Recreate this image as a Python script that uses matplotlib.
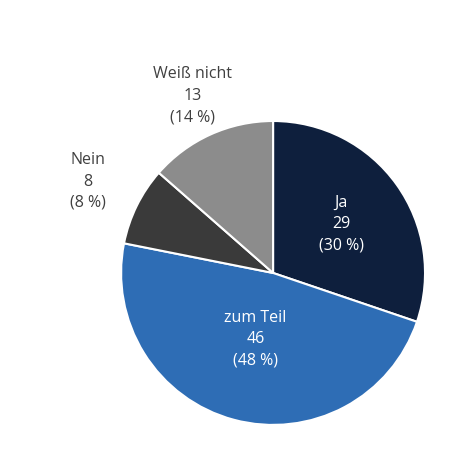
import numpy as np
import matplotlib.pyplot as plt

labels = ["Ja", "zum Teil", "Nein", "Weiß nicht"]
counts = [29, 46, 8, 13]
percents = [30, 48, 8, 14]
colors = ["#0e1f3d", "#2e6db5", "#3a3a3a", "#8c8c8c"]
text_colors = ["white", "white", "#404040", "#404040"]
label_dist = [0.55, 0.45, 1.36, 1.28]

plt.rcParams["font.family"] = ["Open Sans", "DejaVu Sans"]

fig = plt.figure(figsize=(4.70, 4.69), dpi=100)
ax = fig.add_axes([0.2575, 0.094, 0.647, 0.648])
wedges, _ = ax.pie(counts, colors=colors, startangle=90, counterclock=False,
                   wedgeprops=dict(edgecolor="white", linewidth=1.5))
ax.set_xlim(-1, 1)
ax.set_ylim(-1, 1)

for w, lab, n, p, tc, d in zip(wedges, labels, counts, percents, text_colors, label_dist):
    ang = np.deg2rad((w.theta1 + w.theta2) / 2)
    ax.text(d * np.cos(ang), d * np.sin(ang), f"{lab}\n{n}\n({p} %)",
            ha="center", va="center", color=tc, fontsize=11.5, linespacing=1.45,
            clip_on=False)

fig.savefig("out.png", dpi=100)
